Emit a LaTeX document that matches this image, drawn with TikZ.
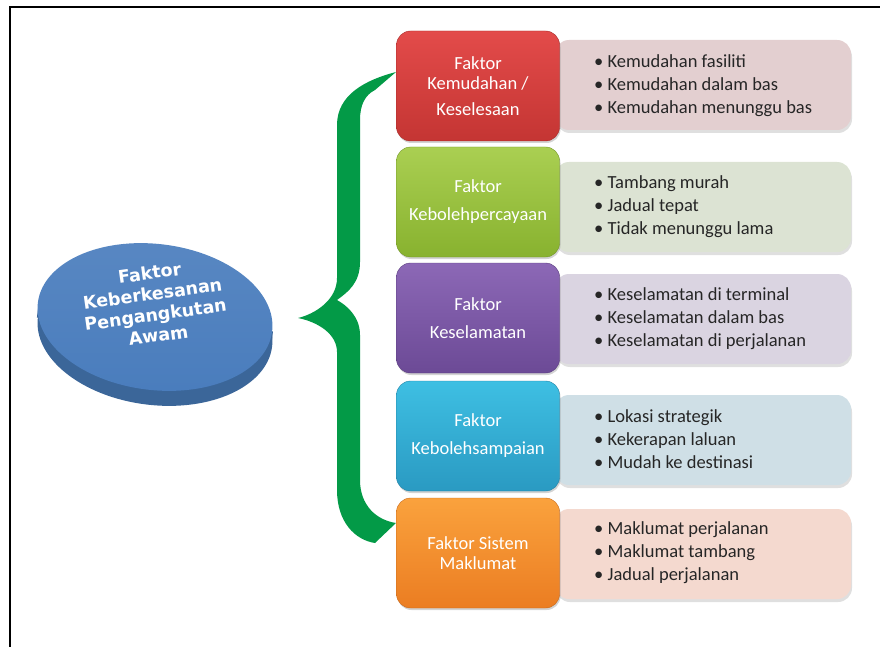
\documentclass[tikz,border=0pt]{standalone}
\usepackage{fontspec}
\setmainfont{Carlito}
\newfontfamily\discfont{DejaVu Sans}
\usetikzlibrary{shapes.geometric, shadows}
\definecolor{merahA}{HTML}{E34B4A}
\definecolor{merahB}{HTML}{C43533}
\definecolor{hijauA}{HTML}{AACF52}
\definecolor{hijauB}{HTML}{88B22F}
\definecolor{unguA}{HTML}{8C68B6}
\definecolor{unguB}{HTML}{6C4A96}
\definecolor{biruA}{HTML}{3EBFE3}
\definecolor{biruB}{HTML}{2A9AC2}
\definecolor{jinggaA}{HTML}{FAA23D}
\definecolor{jinggaB}{HTML}{EB7D22}
\definecolor{merahC}{HTML}{E3CFD0}
\definecolor{hijauC}{HTML}{DCE3D3}
\definecolor{unguC}{HTML}{DAD4E1}
\definecolor{biruC}{HTML}{CFDFE6}
\definecolor{jinggaC}{HTML}{F4D9CF}
\definecolor{cakera}{HTML}{4A7DBD}
\definecolor{cakeraB}{HTML}{3B6699}
\definecolor{kurung}{HTML}{039A47}
\tikzset{
    faktor/.style={rounded corners=14pt, minimum width=163pt, minimum height=110pt,
        text=white, align=center, font=\fontsize{18.5}{20}\selectfont,
        drop shadow={shadow xshift=1pt, shadow yshift=-2pt, opacity=0.35}},
    ciri/.style={rounded corners=14pt, minimum width=296pt, minimum height=90pt,
        drop shadow={shadow xshift=1pt, shadow yshift=-3pt, opacity=0.25}},
    senarai/.style={anchor=west, align=left, inner sep=0pt,
        font=\fontsize{18.5}{23}\selectfont, text=black!85}
}

\begin{document}
\begin{tikzpicture}[x=1pt, y=-1pt]
    \useasboundingbox (0, 0) rectangle (880, 647);
    \draw[line width=2pt] (10, 647) -- (10, 7) -- (880, 7);

    \node[ellipse, minimum width=236pt, minimum height=146pt, fill=cakeraB, rotate=-7] (discbase) at (155, 332) {};
    \fill[cakeraB, rotate around={-7:(155, 324)}] (37, 317) rectangle (273, 332);
    \node[ellipse, minimum width=236pt, minimum height=146pt, rotate=-7,
        top color=cakera!92!white, bottom color=cakera] (disc) at (155, 317) {};
    \node[text=white, align=center, rotate=8, font=\discfont\bfseries\fontsize{17.5}{21}\selectfont] (disctitle)
        at (154, 304) {Faktor\\Keberkesanan\\Pengangkutan\\Awam};

    \fill[kurung] (396, 72) .. controls (365, 80) and (337, 95) .. (337, 125) -- (337, 278)
        .. controls (337, 300) and (315, 314) .. (298, 318)
        .. controls (318, 322) and (337, 334) .. (337, 352) -- (337, 490)
        .. controls (337, 522) and (355, 540) .. (375, 543) -- (396, 523)
        .. controls (376, 520) and (360, 505) .. (360, 480) -- (360, 335)
        .. controls (360, 316) and (346, 305) .. (337, 300)
        .. controls (348, 292) and (360, 283) .. (360, 262) -- (360, 120)
        .. controls (360, 105) and (365, 95) .. (375, 90) -- cycle;

    \node[ciri, fill=merahC] (c1) at (703, 85) {};
    \node[ciri, fill=hijauC] (c2) at (703, 207) {};
    \node[ciri, fill=unguC] (c3) at (703, 319) {};
    \node[ciri, fill=biruC] (c4) at (703, 440) {};
    \node[ciri, fill=jinggaC] (c5) at (703, 554) {};

    \node[faktor, top color=merahA, bottom color=merahB, draw=merahB!85!black] (f1) at (478, 86) {Faktor\\Kemudahan /\\[6pt]Keselesaan};
    \node[faktor, top color=hijauA, bottom color=hijauB, draw=hijauB!85!black] (f2) at (478, 202) {Faktor\\[8pt]Kebolehpercayaan};
    \node[faktor, top color=unguA, bottom color=unguB, draw=unguB!85!black] (f3) at (478, 318) {Faktor\\[8pt]Keselamatan};
    \node[faktor, top color=biruA, bottom color=biruB, draw=biruB!85!black] (f4) at (478, 436) {Faktor\\[8pt]Kebolehsampaian};
    \node[faktor, top color=jinggaA, bottom color=jinggaB, draw=jinggaB!85!black] (f5) at (478, 553) {Faktor Sistem\\Maklumat};

    \node[senarai] (t1) at (594, 86) {\textbullet\ Kemudahan fasiliti\\\textbullet\ Kemudahan dalam bas\\\textbullet\ Kemudahan menunggu bas};
    \node[senarai] (t2) at (594, 207) {\textbullet\ Tambang murah\\\textbullet\ Jadual tepat\\\textbullet\ Tidak menunggu lama};
    \node[senarai] (t3) at (594, 319) {\textbullet\ Keselamatan di terminal\\\textbullet\ Keselamatan dalam bas\\\textbullet\ Keselamatan di perjalanan};
    \node[senarai] (t4) at (594, 439) {\textbullet\ Lokasi strategik\\\textbullet\ Kekerapan laluan\\\textbullet\ Mudah ke destinasi};
    \node[senarai] (t5) at (594, 553) {\textbullet\ Maklumat perjalanan\\\textbullet\ Maklumat tambang\\\textbullet\ Jadual perjalanan};
\end{tikzpicture}
\end{document}
